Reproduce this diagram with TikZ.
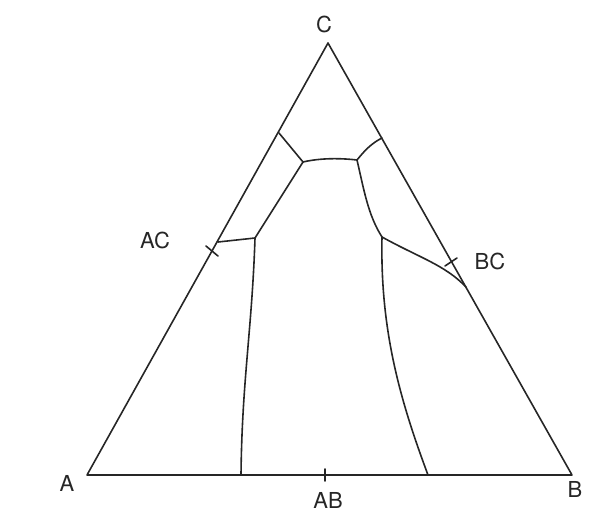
\documentclass[tikz,border=0pt]{standalone}
\usepackage{fontspec}
\setmainfont{TeX Gyre Heros}
\begin{document}
\begin{tikzpicture}[x=1pt,y=-1pt,
  ln/.style={line width=1.6pt,draw=black!85,line cap=round,line join=round},
  lbl/.style={font=\fontsize{22}{22}\selectfont,text=black!85,inner sep=0pt}]
\useasboundingbox (0,0) rectangle (611,517);
% vertices
\coordinate (A) at (87,475);
\coordinate (B) at (572,475);
\coordinate (C) at (328,43);
% junctions
\coordinate (acE) at (279,133);
\coordinate (bcE) at (382,138);
\coordinate (j1) at (303,162);
\coordinate (j2) at (357,160);
\coordinate (j3) at (255,238);
\coordinate (j4) at (382,237);
\coordinate (acP) at (218,242);
\coordinate (bcP) at (466,287);
\coordinate (ab1) at (241,475);
\coordinate (ab2) at (428,475);
% ticks
\coordinate (tAC1) at (206,246);
\coordinate (tAC2) at (218,256);
\coordinate (tBC1) at (445,266);
\coordinate (tBC2) at (457,258);
\coordinate (tAB1) at (325,469);
\coordinate (tAB2) at (325,481);
% triangle
\draw[ln] (A) -- (B) -- (C) -- cycle;
% boundaries
\draw[ln] (acE) -- (j1);
\draw[ln] (j1) .. controls (320,158) and (340,158) .. (j2);
\draw[ln] (j2) .. controls (365,150) and (372,143) .. (bcE);
\draw[ln] (j1) -- (j3);
\draw[ln] (acP) -- (j3);
\draw[ln] (j2) .. controls (364,190) and (368,215) .. (j4);
\draw[ln] (j4) .. controls (420,258) and (445,265) .. (bcP);
\draw[ln] (j3) .. controls (252,330) and (242,380) .. (ab1);
\draw[ln] (j4) .. controls (380,330) and (400,400) .. (ab2);
% ticks
\draw[ln] (tAC1) -- (tAC2);
\draw[ln] (tBC1) -- (tBC2);
\draw[ln] (tAB1) -- (tAB2);
% labels
\node[lbl] (lC) at (324,24) {C};
\node[lbl] (lA) at (67,483) {A};
\node[lbl] (lB) at (575,489) {B};
\node[lbl] (lAB) at (328,500) {AB};
\node[lbl] (lAC) at (155,240) {AC};
\node[lbl] (lBC) at (490,261) {BC};
\end{tikzpicture}
\end{document}
